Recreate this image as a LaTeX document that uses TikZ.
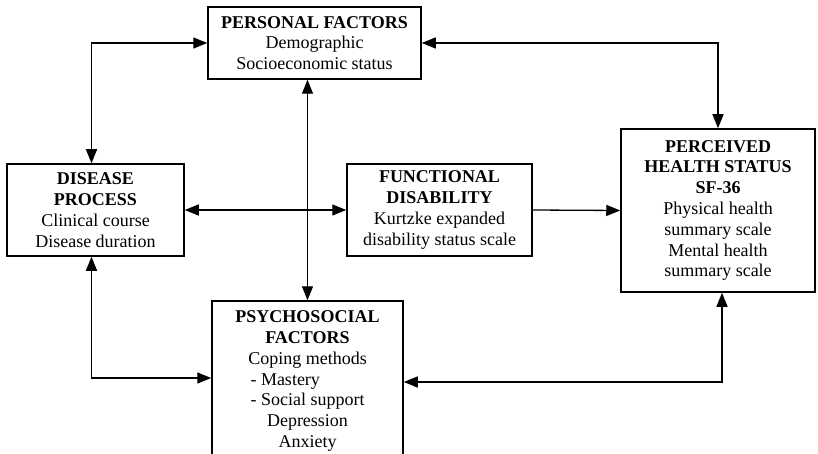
\documentclass[tikz,border=0pt]{standalone}
\usepackage{fontspec}
\usepackage{calc}
\setmainfont{Liberation Serif}
\usetikzlibrary{arrows.meta}
\begin{document}
\begin{tikzpicture}[ x=1pt, y=-1pt,
	  factor/.style={ draw, line width=1.5pt, align=center, inner sep=2pt, font=\fontsize{18}{20.8}\selectfont },
	  link/.style={ line width=1.3pt, {Triangle[length=14pt,width=11pt]}-{Triangle[length=14pt,width=11pt]} },
	  onelink/.style={ line width=1.3pt, -{Triangle[length=14pt,width=11pt]} } ]
	  \clip (0,0) rectangle (818,454);

	  \node [ factor, minimum width=213pt, minimum height=72pt ] (personal) at (314.5,43) { \textbf{PERSONAL FACTORS}\\ Demographic\\ Socioeconomic status };
	  \node [ factor, minimum width=177pt, minimum height=92pt ] (disease) at (95.5,210) { \textbf{DISEASE}\\ \textbf{PROCESS}\\ Clinical course\\ Disease duration };
	  \node [ factor, minimum width=185pt, minimum height=92pt ] (functional) at (439.5,210) { \textbf{FUNCTIONAL}\\ \textbf{DISABILITY}\\ Kurtzke expanded\\ disability status scale };
	  \node [ factor, minimum width=194pt, minimum height=163pt ] (perceived) at (718,210.5) { \textbf{PERCEIVED}\\ \textbf{HEALTH STATUS}\\ \textbf{SF-36}\\ Physical health\\ summary scale\\ Mental health\\ summary scale };
	  \node [ factor, minimum width=191pt, minimum height=160pt ] (psychosocial) at (307.5,381) { \textbf{PSYCHOSOCIAL}\\ \textbf{FACTORS}\\ Coping methods\\ \makebox[\widthof{- Social support}][l]{- Mastery}\\ - Social support\\ Depression\\ Anxiety };

	  \draw [ link ] (personal.west) -| ([xshift=-4pt]disease.north);
	  \draw [ link ] (personal.east) -| (perceived.north);
	  \draw [ link ] (disease.east) -- (functional.west);
	  \draw [ onelink ] (functional.east) -- (perceived.west);
	  \draw [ link ] (personal.south -| psychosocial.north) -- (psychosocial.north);
	  \draw [ link ] ([xshift=-4pt]disease.south) |- ([yshift=3pt]psychosocial.west);
	  \draw [ link ] ([xshift=4pt]perceived.south) |- ([yshift=-1pt]psychosocial.east);
	\end{tikzpicture}
\end{document}
